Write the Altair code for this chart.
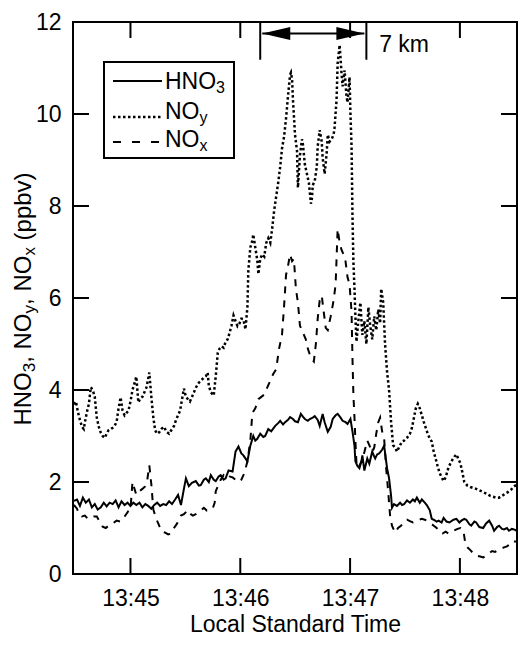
import altair as alt
import pandas as pd

FONT = "Liberation Sans"

# time = seconds after 13:44:00 Local Standard Time; values in ppbv
hno3_t = [29.1, 30.8, 32.4, 34.0, 35.6, 37.3, 38.9, 40.5, 42.1, 43.8, 45.4, 47.0, 48.6, 50.3, 51.9, 53.5, 55.1, 56.8,
          58.4, 60.0, 61.6, 63.2, 64.9, 66.5, 68.1, 69.7, 71.4, 73.0, 74.6, 76.2, 77.9, 79.5, 81.1, 82.7, 84.4, 86.0,
          87.6, 89.2, 90.3, 91.9, 93.6, 95.7, 97.4, 98.4, 100.1, 101.2, 102.8, 103.9, 105.5, 106.6, 108.2, 109.3,
          110.9, 112.0, 113.6, 115.8, 117.4, 119.0, 120.6, 121.7, 123.9, 125.5, 127.1, 128.2, 129.3, 130.9, 132.6,
          133.6, 135.3, 136.9, 139.1, 140.7, 141.8, 143.4, 144.5, 146.1, 147.2, 148.8, 149.9, 151.5, 153.1, 154.2,
          155.3, 156.9, 158.0, 159.6, 160.7, 162.3, 163.4, 165.0, 166.1, 167.8, 169.4, 170.5, 172.1, 173.2, 174.8,
          175.9, 177.5, 178.6, 180.2, 181.3, 182.4, 182.9, 184.0, 185.1, 186.2, 186.7, 187.8, 189.4, 190.5, 192.1,
          193.2, 193.7, 194.8, 195.9, 197.5, 198.6, 200.2, 201.3, 202.4, 202.9, 204.0, 205.6, 207.3, 208.4, 209.5,
          211.1, 212.7, 214.3, 215.4, 216.5, 218.1, 219.2, 220.8, 221.9, 223.5, 224.6, 225.7, 227.3, 228.4, 230.0,
          231.1, 232.7, 234.3, 236.5, 238.1, 239.7, 240.8, 242.4, 243.5, 245.2, 246.2, 247.9, 248.9, 250.6, 252.7,
          254.3, 256.0, 257.6, 258.7, 260.3, 261.4, 263.0, 264.1, 265.7, 266.8, 268.4, 269.5, 271.1]
hno3_v = [1.59, 1.62, 1.48, 1.66, 1.55, 1.62, 1.45, 1.52, 1.40, 1.45, 1.55, 1.47, 1.55, 1.52, 1.60, 1.45, 1.58, 1.50,
          1.55, 1.48, 1.55, 1.50, 1.55, 1.45, 1.52, 1.48, 1.42, 1.50, 1.55, 1.48, 1.52, 1.50, 1.58, 1.52, 1.62, 1.72,
          1.50, 1.85, 2.08, 1.91, 1.98, 2.02, 1.92, 1.93, 2.05, 2.08, 2.00, 2.15, 2.05, 2.02, 2.12, 2.15,
          2.05, 2.08, 2.25, 2.23, 2.66, 2.77, 2.62, 2.58, 2.45, 2.79, 3.00, 2.90, 2.94, 3.05, 2.98,
          3.00, 3.15, 3.10, 3.22, 3.28, 3.33, 3.25, 3.30, 3.35, 3.41, 3.37, 3.32, 3.30, 3.48, 3.42,
          3.37, 3.33, 3.37, 3.40, 3.43, 3.35, 3.22, 3.48, 3.30, 3.09, 3.20, 3.37, 3.45, 3.48, 3.40,
          3.33, 3.30, 3.26, 3.37, 3.10, 2.79, 2.45, 2.35, 2.30, 2.45, 2.58, 2.25, 2.51, 2.40, 2.66,
          2.55, 2.51, 2.60, 2.62, 2.70, 2.79, 2.30, 2.08, 1.70, 1.44, 1.52, 1.48, 1.55, 1.50, 1.52,
          1.60, 1.55, 1.62, 1.58, 1.66, 1.55, 1.62, 1.55, 1.50, 1.39, 1.20, 1.18, 1.14, 1.16, 1.12,
          1.22, 1.14, 1.12, 1.18, 1.20, 1.12, 1.16, 1.20, 1.18, 1.08, 1.05, 1.14, 1.12, 1.02, 1.00,
          1.10, 1.16, 1.05, 0.94, 1.02, 1.05, 0.98, 0.97, 1.00, 0.94, 0.98, 0.97, 0.94]

noy_t = [29.1, 30.2, 31.3, 32.4, 33.5, 34.5, 35.1, 36.2, 37.3, 38.3, 39.4, 40.5, 41.6, 42.7, 43.8, 44.8, 45.9, 47.0,
         48.1, 49.2, 50.3, 51.3, 52.4, 53.5, 54.6, 55.7, 56.8, 57.8, 58.9, 60.0, 61.1, 62.2, 63.2, 64.3, 65.4, 66.5,
         67.6, 68.7, 69.7, 70.3, 71.4, 72.5, 73.5, 74.6, 75.7, 76.8, 78.4, 79.5, 81.1, 82.2, 83.8, 84.9, 86.0, 87.1,
         88.2, 89.2, 90.3, 91.4, 92.5, 93.6, 94.7, 95.7, 97.4, 98.4, 100.1, 101.2, 102.2, 102.8, 103.9, 105.5, 106.6,
         107.7, 108.7, 109.8, 110.9, 112.0, 113.1, 114.2, 115.2, 116.3, 117.4, 118.5, 119.6, 120.6, 121.7, 122.8,
         123.9, 124.4, 125.5, 126.6, 127.1, 128.2, 129.3, 129.9, 130.9, 132.0, 133.1, 134.2, 135.3, 136.4, 137.4,
         138.5, 139.6, 140.7, 141.8, 142.8, 143.9, 145.0, 146.1, 147.2, 147.7, 148.3, 148.8, 149.9, 151.0, 151.5,
         152.6, 153.7, 154.2, 155.3, 156.4, 157.5, 158.6, 159.1, 159.6, 160.7, 161.8, 162.3, 163.4, 164.5, 165.0,
         166.1, 167.2, 167.8, 168.8, 169.9, 171.0, 171.5, 172.6, 173.2, 174.3, 174.8, 175.3, 175.9, 177.0, 178.0,
         178.6, 179.7, 180.2, 180.8, 181.3, 181.8, 182.4, 182.9, 183.5, 184.5, 185.6, 186.7, 187.8, 188.9, 190.0,
         191.0, 192.1, 193.2, 194.3, 195.4, 196.4, 197.0, 198.1, 199.1, 200.2, 201.3, 202.4, 203.5, 204.6, 205.6,
         206.7, 208.4, 209.5, 211.1, 212.7, 213.8, 214.9, 215.9, 217.0, 218.1, 219.2, 220.3, 221.3, 222.4, 223.5,
         224.6, 225.7, 226.8, 227.8, 228.9, 230.0, 231.1, 232.2, 233.8, 235.4, 237.0, 238.1, 239.2, 240.3, 241.4,
         242.4, 244.1, 245.7, 247.3, 248.9, 250.6, 252.7, 254.9, 256.5, 258.1, 259.8, 261.4, 263.0, 264.6, 266.2,
         267.9, 269.5, 271.1]
noy_v = [3.69, 3.75, 3.52, 3.35, 3.20, 3.15, 3.30, 3.52, 3.70, 4.06, 4.00, 3.85, 3.40, 3.20, 3.07, 3.00, 2.96, 3.05,
         3.13, 3.15, 3.18, 3.22, 3.30, 3.60, 3.84, 3.55, 3.45, 3.50, 3.55, 3.75, 4.00, 4.15, 4.29, 3.73, 3.82, 3.85,
         3.95, 4.05, 4.25, 4.38, 3.85, 3.40, 3.12, 3.05, 3.08, 3.15, 3.20, 3.10, 3.05, 3.12, 3.22, 3.35, 3.45, 3.55,
         3.80, 4.03, 3.85, 3.80, 3.75, 3.85, 3.95, 4.05, 4.16, 4.20, 4.27, 4.30, 4.38, 4.10, 3.95, 3.88, 4.30,
         4.81, 4.90, 4.95, 4.92, 5.05, 5.10, 5.25, 5.40, 5.62, 5.50, 5.39, 5.45, 5.55, 5.54, 5.32,
         5.80, 6.60, 7.10, 7.25, 7.38, 7.10, 6.82, 6.52, 6.85, 6.95, 6.90, 7.20, 7.30, 7.20, 7.50,
         7.90, 8.20, 8.50, 8.85, 9.25, 9.50, 9.90, 10.40, 10.85, 10.90, 10.75, 10.30, 9.55, 9.20, 8.40,
         9.10, 9.45, 9.35, 8.90, 8.70, 8.50, 8.05, 8.15, 8.45, 8.55, 8.85, 9.30, 9.65, 9.40, 9.05,
         8.70, 9.15, 9.55, 9.40, 9.45, 9.55, 9.70, 10.30, 11.10, 11.50, 11.20, 10.90, 10.60, 10.95, 10.40,
         10.25, 10.80, 10.00, 9.30, 7.80, 6.80, 6.20, 5.60, 5.05, 5.50, 5.90, 5.20, 5.50, 5.00, 5.80,
         5.40, 5.10, 5.60, 5.30, 5.75, 5.45, 6.20, 5.90, 5.00, 4.40, 4.00, 3.30, 2.80, 2.75, 2.66,
         2.75, 2.88, 2.90, 2.96, 3.05, 3.18, 3.40, 3.60, 3.70, 3.60, 3.45, 3.30, 3.18, 3.05, 2.95,
         2.88, 2.66, 2.50, 2.35, 2.20, 2.10, 2.02, 2.10, 2.32, 2.45, 2.55, 2.60, 2.50, 2.40, 2.20,
         2.00, 1.92, 1.89, 1.87, 1.85, 1.82, 1.78, 1.74, 1.70, 1.68, 1.66, 1.66, 1.70, 1.74, 1.78,
         1.83, 1.90, 1.95]

nox_t = [29.1, 30.8, 31.8, 33.5, 35.1, 36.7, 38.3, 40.0, 41.6, 43.2, 44.8, 46.5, 48.1, 50.3, 52.4, 54.6, 56.8, 58.9,
         60.0, 61.1, 62.2, 63.2, 64.9, 66.5, 68.1, 69.2, 70.3, 71.4, 72.5, 74.1, 75.7, 77.3, 79.0, 80.6, 82.2, 83.8,
         85.5, 86.5, 87.6, 89.2, 91.4, 93.0, 94.1, 95.7, 97.4, 99.0, 100.1, 101.7, 103.3, 104.9, 106.0, 106.6, 107.7,
         109.3, 110.9, 112.5, 114.2, 115.8, 117.4, 119.0, 120.6, 122.3, 123.9, 125.5, 126.6, 128.2, 129.9, 131.5,
         133.1, 134.7, 136.4, 138.0, 139.6, 141.2, 142.8, 143.9, 145.0, 146.1, 147.2, 148.3, 149.3, 150.4, 151.5,
         152.6, 154.2, 155.8, 156.9, 158.6, 160.2, 161.3, 162.3, 163.4, 164.5, 165.6, 166.7, 167.8, 169.4, 171.0,
         172.1, 173.2, 174.3, 175.3, 176.4, 177.5, 178.6, 179.7, 180.8, 181.3, 181.8, 182.4, 182.9, 183.5, 184.5,
         186.2, 187.8, 189.4, 190.5, 192.1, 193.2, 194.3, 195.4, 196.4, 197.5, 198.6, 199.7, 200.8, 201.9, 202.9,
         204.6, 206.2, 207.8, 209.5, 211.1, 212.7, 214.3, 215.9, 217.6, 219.2, 220.8, 222.4, 224.1, 225.7, 227.3,
         228.9, 230.5, 232.2, 233.8, 235.4, 237.0, 238.7, 240.3, 241.9, 243.0, 244.1, 245.7, 247.3, 248.9, 251.1,
         252.7, 254.3, 256.0, 257.6, 259.2, 260.8, 262.5, 264.1, 265.7, 267.3, 269.0, 270.6]
nox_v = [1.50, 1.42, 1.30, 1.25, 1.27, 1.20, 1.22, 1.25, 1.25, 1.14, 1.03, 1.00, 1.05, 1.10, 1.16, 1.14, 1.25, 1.37,
         1.40, 2.00, 1.85, 1.72, 1.80, 1.85, 1.91, 2.05, 2.36, 1.95, 1.40, 1.20, 1.05, 0.92, 0.90, 0.86, 0.88, 1.00,
         1.10, 1.18, 1.27, 1.30, 1.39, 1.30, 1.27, 1.30, 1.35, 1.40, 1.44, 1.38, 1.40, 1.42, 1.55, 1.80, 1.90,
         2.05, 2.15, 2.08, 2.12, 2.10, 2.05, 2.00, 2.05, 2.20, 2.45, 2.90, 3.50, 3.60, 3.80, 3.85,
         3.90, 4.05, 4.20, 4.35, 4.45, 4.90, 5.20, 5.80, 6.50, 6.70, 6.95, 6.80, 6.85, 6.20, 5.90,
         5.40, 5.25, 5.10, 4.90, 4.70, 4.62, 5.00, 5.55, 5.95, 6.05, 5.70, 5.35, 5.30, 5.60, 5.95,
         6.30, 7.50, 7.20, 7.05, 6.95, 6.80, 6.45, 6.30, 5.70, 4.70, 3.90, 3.40, 2.90, 2.40, 2.30,
         2.45, 2.65, 2.90, 2.80, 2.65, 2.75, 3.05, 3.30, 3.40, 3.10, 2.95, 2.30, 1.80, 1.25, 1.05,
         0.90, 1.00, 1.05, 1.12, 1.18, 1.15, 1.12, 1.15, 1.18, 1.20, 1.18, 1.15, 1.10, 1.05, 1.00,
         0.90, 0.88, 0.92, 0.88, 0.92, 0.95, 0.98, 1.00, 0.95, 0.65, 0.58, 0.52, 0.45, 0.40, 0.38,
         0.36, 0.40, 0.45, 0.50, 0.48, 0.52, 0.55, 0.58, 0.60, 0.65, 0.72, 0.70]

x_domain = [28.6, 271.2]
x_ticks = [60, 120, 180, 240]          # 13:45 ... 13:48
y_ticks = [0, 2, 4, 6, 8, 10, 12]

# "7 km" distance marker (data coordinates)
km_bar_t = [130.9, 188.9]
km_bar_top = 12.0
km_bar_bottom = 11.18
km_arrow_t = [132.0, 187.8]
km_arrow_v = 11.75
km_label = "7 km"
km_label_t = 195.9
km_label_v = 11.35

W, H = 444, 552
PAD = {"left": 65, "top": 14, "right": 1, "bottom": 62}
FS_TICK = 23
FS_TITLE = 23
FS_LEG = 23
SUB_LEG = 16
FS_YT = 24
SUB_YT = 17

AW = {"H": 0.722, "N": 0.722, "O": 0.778, ",": 0.278, " ": 0.278, "(": 0.333, ")": 0.333,
      "p": 0.556, "b": 0.556, "v": 0.5, "y": 0.5, "x": 0.5, "3": 0.556}


def tw(s, size):
    return sum(AW.get(c, 0.556) for c in s) * size


xs = alt.Scale(domain=x_domain, nice=False, zero=False)
ys = alt.Scale(domain=[0, 12], nice=False, zero=False)
one = pd.DataFrame({"a": [0]})

df_noy = pd.DataFrame({"t": noy_t, "v": noy_v})
df_nox = pd.DataFrame({"t": nox_t, "v": nox_v})
df_hno3 = pd.DataFrame({"t": hno3_t, "v": hno3_v})

x_axis = alt.Axis(values=x_ticks, labelExpr="'13:' + (44 + datum.value / 60)", ticks=False, domain=False,
                  grid=False, labelFont=FONT, labelFontSize=FS_TICK, labelColor="black", labelPadding=13,
                  labelOverlap=False, labelFlush=False, title="Local Standard Time", titleFont=FONT,
                  titleFontSize=FS_TITLE, titleFontWeight="normal", titleColor="black",
                  titleBaseline="alphabetic", titleY=57)
y_axis = alt.Axis(values=y_ticks, ticks=False, domain=False, grid=False, labelFont=FONT, labelFontSize=FS_TICK,
                  labelColor="black", labelPadding=12, labelOverlap=False, title=None)

layers = []
layers.append(alt.Chart(df_noy).mark_line(color="black", strokeWidth=2.5, strokeDash=[2.5, 2.5]).encode(
    x=alt.X("t:Q", scale=xs, axis=x_axis), y=alt.Y("v:Q", scale=ys, axis=y_axis)))
layers.append(alt.Chart(df_nox).mark_line(color="black", strokeWidth=2, strokeDash=[7, 7]).encode(
    x=alt.X("t:Q", scale=xs), y=alt.Y("v:Q", scale=ys)))
layers.append(alt.Chart(df_hno3).mark_line(color="black", strokeWidth=2).encode(
    x=alt.X("t:Q", scale=xs), y=alt.Y("v:Q", scale=ys)))

# inward ticks on all four sides
df_yt = pd.DataFrame({"v": y_ticks})
df_xt = pd.DataFrame({"t": x_ticks})
for a, b in [(0, 16), (W - 16, W)]:
    layers.append(alt.Chart(df_yt).mark_rule(color="black", strokeWidth=2).encode(
        y=alt.Y("v:Q", scale=ys), x=alt.value(a), x2=alt.value(b)))
for a, b in [(H - 16, H), (0, 16)]:
    layers.append(alt.Chart(df_xt).mark_rule(color="black", strokeWidth=2).encode(
        x=alt.X("t:Q", scale=xs), y=alt.value(a), y2=alt.value(b)))

# 7 km marker
df_bar = pd.DataFrame({"t": km_bar_t, "v": [km_bar_top] * 2, "v2": [km_bar_bottom] * 2})
layers.append(alt.Chart(df_bar).mark_rule(color="black", strokeWidth=2).encode(
    x=alt.X("t:Q", scale=xs), y=alt.Y("v:Q", scale=ys), y2="v2:Q"))
df_shaft = pd.DataFrame({"t": [km_arrow_t[0]], "t2": [km_arrow_t[1]], "v": [km_arrow_v]})
layers.append(alt.Chart(df_shaft).mark_rule(color="black", strokeWidth=2).encode(
    x=alt.X("t:Q", scale=xs), x2="t2:Q", y=alt.Y("v:Q", scale=ys)))
for tt, shp in [(km_arrow_t[0], "M0,0L2,-0.46L2,0.46Z"), (km_arrow_t[1], "M0,0L-2,-0.46L-2,0.46Z")]:
    layers.append(alt.Chart(pd.DataFrame({"t": [tt], "v": [km_arrow_v]})).mark_point(
        shape=shp, size=784, filled=True, color="black", opacity=1, strokeWidth=0).encode(
        x=alt.X("t:Q", scale=xs), y=alt.Y("v:Q", scale=ys)))
layers.append(alt.Chart(pd.DataFrame({"t": [km_label_t], "v": [km_label_v], "s": [km_label]})).mark_text(
    font=FONT, fontSize=FS_LEG, align="left", baseline="alphabetic", color="black").encode(
    x=alt.X("t:Q", scale=xs), y=alt.Y("v:Q", scale=ys), text="s:N"))


def txt(s, x, y, size, angle=0):
    return alt.Chart(one).mark_text(font=FONT, fontSize=size, angle=angle, align="left",
                                    baseline="alphabetic", color="black").encode(
        x=alt.value(x), y=alt.value(y), text=alt.value(s))


# legend
layers.append(alt.Chart(one).mark_rect(fill="white", stroke="black", strokeWidth=2).encode(
    x=alt.value(31), x2=alt.value(161), y=alt.value(40), y2=alt.value(136)))
layers.append(alt.Chart(one).mark_rule(color="black", strokeWidth=2).encode(
    x=alt.value(40), x2=alt.value(89), y=alt.value(59)))
layers.append(alt.Chart(one).mark_rule(color="black", strokeWidth=2.5, strokeDash=[2.5, 2.5]).encode(
    x=alt.value(40), x2=alt.value(89), y=alt.value(95)))
layers.append(alt.Chart(one).mark_rule(color="black", strokeWidth=2, strokeDash=[8, 11]).encode(
    x=alt.value(40), x2=alt.value(89), y=alt.value(120)))
leg = [("HNO", "3", 67), ("NO", "y", 97), ("NO", "x", 125)]
for main, sub, by in leg:
    layers.append(txt(main, 92, by, FS_LEG))
    layers.append(txt(sub, 92 + tw(main, FS_LEG), by + 4, SUB_LEG))

# y-axis title with subscripts, rotated (reads bottom to top)
segs = [("HNO", False, 0), ("3", True, 0), (", NO", False, 0), ("y", True, 0), (", NO", False, 0),
        ("x", True, 0), ("(ppbv)", False, tw(" ", FS_YT))]
total = sum(tw(s, SUB_YT if sb else FS_YT) + gap for s, sb, gap in segs)
pos = H / 2 + 1 + total / 2
for s, sb, gap in segs:
    size = SUB_YT if sb else FS_YT
    pos -= gap
    layers.append(txt(s, -42 + (4 if sb else 0), pos, size, angle=270))
    pos -= tw(s, size)

chart = alt.layer(*layers).properties(
    width=W, height=H,
    padding=PAD,
    autosize=alt.AutoSizeParams(type="none"),
).configure_view(stroke="black", strokeWidth=2)

chart.save("out.html", embed_options={"renderer": "svg", "actions": False})
